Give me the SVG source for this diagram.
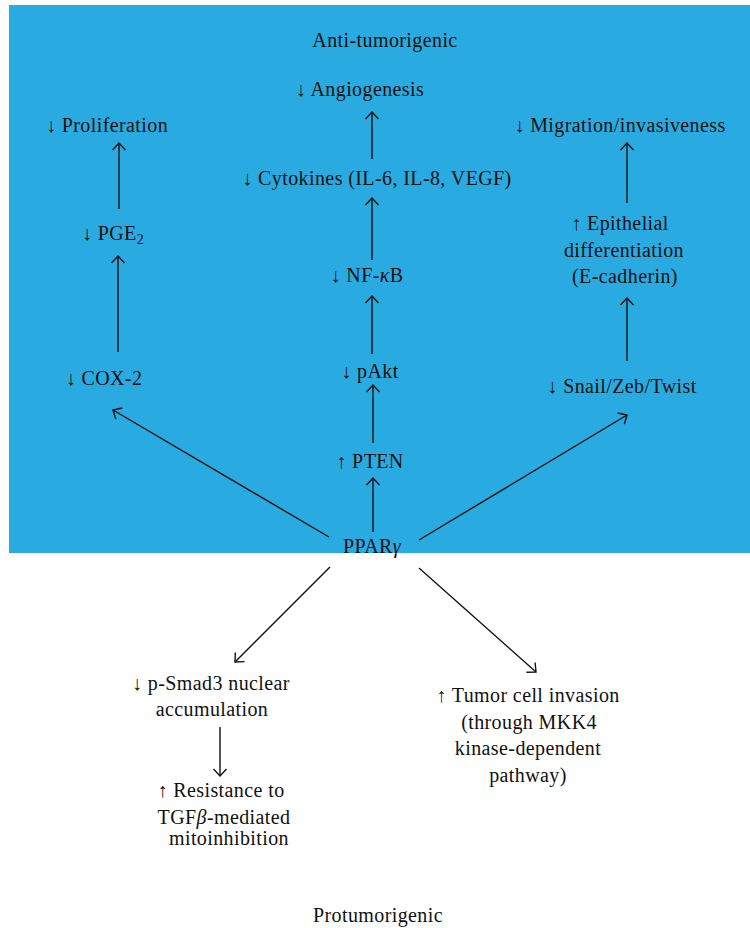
<svg xmlns="http://www.w3.org/2000/svg" width="750" height="928" viewBox="0 0 750 928">
<style>
text{font-family:"Liberation Serif","Times New Roman",serif;font-size:20px;fill:#111;text-anchor:middle;letter-spacing:0.4px}
.a{font-family:"Liberation Serif","DejaVu Serif",serif;fill:#111}
.c line{stroke:#111;stroke-width:1.4;fill:none;marker-end:url(#ah)}
.i{font-style:italic}
</style>
<defs>
<marker id="ah" viewBox="-10 -8 12 16" markerWidth="12" markerHeight="16" refX="0" refY="0" orient="auto" markerUnits="userSpaceOnUse">
<path d="M-7,-6.5 L0,0 L-7,6.5" fill="none" stroke="#111" stroke-width="1.4"/>
</marker>
</defs>
<rect x="9" y="5" width="741" height="548" fill="#29ABE2"/>
<g id="anti-label"><text x="385" y="47">Anti-tumorigenic</text></g>
<g id="angiogenesis"><text x="360" y="96"><tspan class="a">↓</tspan> Angiogenesis</text></g>
<g id="proliferation"><text x="107" y="132"><tspan class="a">↓</tspan> Proliferation</text></g>
<g id="migration"><text x="620" y="132"><tspan class="a">↓</tspan> Migration/invasiveness</text></g>
<g id="cytokines"><text x="377" y="185"><tspan class="a">↓</tspan> Cytokines (IL-6, IL-8, VEGF)</text></g>
<g id="pge2"><text x="113" y="240"><tspan class="a">↓</tspan> PGE<tspan font-size="14" dy="4">2</tspan></text></g>
<g id="epithelial"><text x="620" y="230"><tspan class="a">↑</tspan> Epithelial</text><text x="624" y="257">differentiation</text><text x="625" y="283">(E-cadherin)</text></g>
<g id="nfkb"><text x="367" y="282"><tspan class="a">↓</tspan> NF-<tspan class="i">κ</tspan>B</text></g>
<g id="pakt"><text x="370" y="378"><tspan class="a">↓</tspan> pAkt</text></g>
<g id="cox2"><text x="104" y="385"><tspan class="a">↓</tspan> COX-2</text></g>
<g id="snail"><text x="622" y="393"><tspan class="a">↓</tspan> Snail/Zeb/Twist</text></g>
<g id="pten"><text x="370" y="468"><tspan class="a">↑</tspan> PTEN</text></g>
<g id="ppar"><text x="372" y="553">PPAR<tspan class="i">γ</tspan></text></g>
<g id="smad3"><text x="211" y="690"><tspan class="a">↓</tspan> p-Smad3 nuclear</text><text x="212" y="716">accumulation</text></g>
<g id="resistance"><text x="221" y="797"><tspan class="a">↑</tspan> Resistance to</text><text x="224" y="824">TGF<tspan class="i">β</tspan>-mediated</text><text x="229" y="845">mitoinhibition</text></g>
<g id="invasion"><text x="528" y="702"><tspan class="a">↑</tspan> Tumor cell invasion</text><text x="529" y="729">(through MKK4</text><text x="528" y="755">kinase-dependent</text><text x="528" y="782">pathway)</text></g>
<g id="pro-label"><text x="378" y="922">Protumorigenic</text></g>
<g class="c" id="connectors">
<line x1="119" y1="209" x2="119" y2="143"/>
<line x1="118" y1="352" x2="118" y2="256"/>
<line x1="372" y1="159" x2="372" y2="112"/>
<line x1="372" y1="260" x2="372" y2="198"/>
<line x1="372" y1="354" x2="372" y2="296"/>
<line x1="373" y1="443" x2="373" y2="385"/>
<line x1="373" y1="532" x2="373" y2="478"/>
<line x1="627" y1="203" x2="627" y2="143"/>
<line x1="627" y1="361" x2="627" y2="298"/>
<line x1="329" y1="537" x2="113" y2="410"/>
<line x1="419" y1="540" x2="627" y2="415"/>
<line x1="330" y1="567" x2="235" y2="662"/>
<line x1="419" y1="568" x2="536" y2="672"/>
<line x1="220" y1="727" x2="220" y2="776"/>
</g>
</svg>
